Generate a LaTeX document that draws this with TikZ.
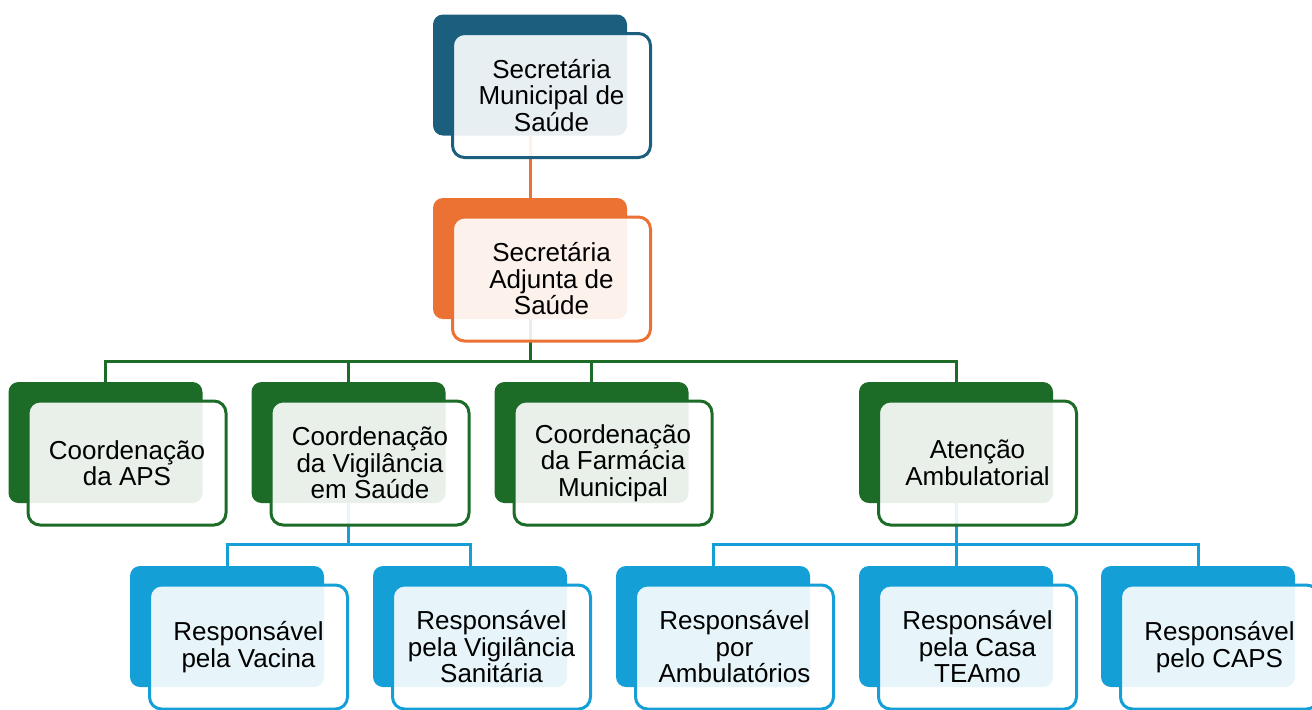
\documentclass[tikz,border=0pt]{standalone}
\usepackage{fontspec}
\setmainfont{Liberation Sans}
\usetikzlibrary{backgrounds}
\definecolor{smsblue}{HTML}{1B5E7E}
\definecolor{asaorange}{HTML}{EB7233}
\definecolor{coordgreen}{HTML}{1C6B26}
\definecolor{respblue}{HTML}{149FD6}
\tikzset{
		backbox/.style={rectangle, rounded corners=5pt, minimum width=97pt, minimum height=60.5pt, fill=#1},
		frontbox/.style={rectangle, rounded corners=6pt, minimum width=99pt, minimum height=62pt,
			draw=#1, line width=1.5pt, fill=white, fill opacity=0.9, text opacity=1,
			xshift=10.75pt, yshift=-10.25pt, align=center, font=\fontsize{13}{13.25}\selectfont},
		link/.style={draw=#1, line width=1.5pt}
	}

\begin{document}
\begin{tikzpicture}[x=0.5pt, y=-0.5pt]
		\useasboundingbox (0,0) rectangle (1312,709);

		\node[backbox=smsblue]    (sms)    at (530,75)    {};
		\node[frontbox=smsblue]   (smsf)   at (sms)       {Secretária\\Municipal de\\Saúde};
		\node[backbox=asaorange]  (asa)    at (530,258.5) {};
		\node[frontbox=asaorange] (asaf)   at (asa)       {Secretária\\Adjunta de\\Saúde};

		\node[backbox=coordgreen]  (aps)   at (105.5,442.5) {};
		\node[frontbox=coordgreen] (apsf)  at (aps)         {Coordenação\\da APS};
		\node[backbox=coordgreen]  (vig)   at (348.5,442.5) {};
		\node[frontbox=coordgreen] (vigf)  at (vig)         {Coordenação\\da Vigilância\\em Saúde};
		\node[backbox=coordgreen]  (farm)  at (591.5,442.5) {};
		\node[frontbox=coordgreen] (farmf) at (farm)        {Coordenação\\da Farmácia\\Municipal};
		\node[backbox=coordgreen]  (amb)   at (956,442.5)   {};
		\node[frontbox=coordgreen] (ambf)  at (amb)         {Atenção\\Ambulatorial};

		\node[backbox=respblue]  (vac)    at (227,626.5)  {};
		\node[frontbox=respblue] (vacf)   at (vac)        {Responsável\\pela Vacina};
		\node[backbox=respblue]  (visa)   at (470,626.5)  {};
		\node[frontbox=respblue] (visaf)  at (visa)       {Responsável\\pela Vigilância\\Sanitária};
		\node[backbox=respblue]  (ambul)  at (713,626.5)  {};
		\node[frontbox=respblue] (ambulf) at (ambul)      {Responsável\\por\\Ambulatórios};
		\node[backbox=respblue]  (teamo)  at (956,626.5)  {};
		\node[frontbox=respblue] (teamof) at (teamo)      {Responsável\\pela Casa\\TEAmo};
		\node[backbox=respblue]  (caps)   at (1198,626.5) {};
		\node[frontbox=respblue] (capsf)  at (caps)       {Responsável\\pelo CAPS};

		\coordinate (gbar) at (530,361);
		\coordinate (vbar) at (348.5,544);
		\coordinate (abar) at (956,544);

		\begin{scope}[on background layer]
			\draw[link=asaorange] (sms.south) -- (asa.north);
			\draw[link=coordgreen] (asa.south) -- (gbar);
			\foreach \n in {aps, vig, farm, amb}
				\draw[link=coordgreen] (\n.north) |- (gbar);
			\draw[link=respblue] (vig.south) -- (vbar);
			\foreach \n in {vac, visa}
				\draw[link=respblue] (\n.north) |- (vbar);
			\draw[link=respblue] (amb.south) -- (abar);
			\foreach \n in {ambul, teamo, caps}
				\draw[link=respblue] (\n.north) |- (abar);
		\end{scope}
	\end{tikzpicture}
\end{document}
